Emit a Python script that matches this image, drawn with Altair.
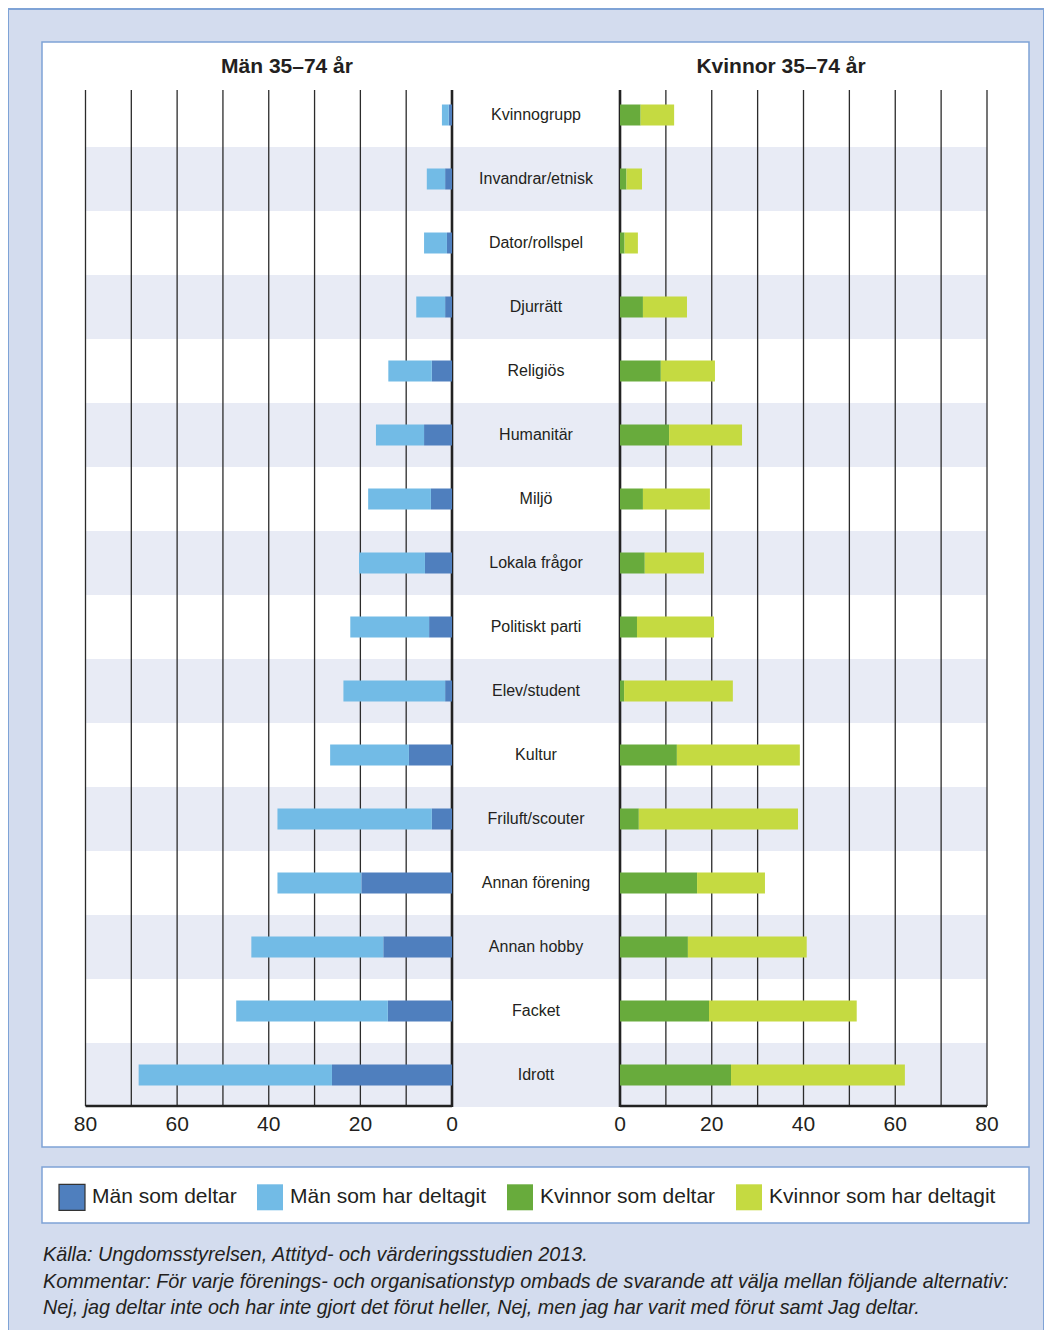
import altair as alt
import pandas as pd

# ---------------- data ----------------
categories = [
    "Kvinnogrupp", "Invandrar/etnisk", "Dator/rollspel", "Djurrätt",
    "Religiös", "Humanitär", "Miljö", "Lokala frågor", "Politiskt parti",
    "Elev/student", "Kultur", "Friluft/scouter", "Annan förening",
    "Annan hobby", "Facket", "Idrott",
]
men_deltar = [0.7, 1.5, 1.1, 1.5, 4.4, 6.1, 4.6, 5.9, 5.0, 1.5, 9.4, 4.4, 19.8, 15.0, 14.0, 26.2]
men_har_deltagit = [1.5, 4.0, 5.0, 6.3, 9.5, 10.5, 13.7, 14.4, 17.2, 22.2, 17.2, 33.7, 18.3, 28.8, 33.1, 42.2]
women_deltar = [4.5, 1.4, 1.0, 5.0, 8.9, 10.7, 5.0, 5.4, 3.7, 0.9, 12.4, 4.1, 16.8, 14.8, 19.4, 24.2]
women_har_deltagit = [7.3, 3.4, 2.9, 9.6, 11.8, 15.9, 14.6, 12.9, 16.8, 23.7, 26.8, 34.7, 14.8, 25.9, 32.2, 37.9]

series = ["Män som deltar", "Män som har deltagit", "Kvinnor som deltar", "Kvinnor som har deltagit"]
series_colors = ["#4f7fbe", "#72bbe6", "#68ab3c", "#c5da41"]

grid_values = [10, 20, 30, 40, 50, 60, 70, 80]
tick_values = [0, 20, 40, 60, 80]

title_men = "Män 35–74 år"
title_women = "Kvinnor 35–74 år"
caption = ("Källa: Ungdomsstyrelsen, Attityd- och värderingsstudien 2013.\n"
           "Kommentar: För varje förenings- och organisationstyp ombads de svarande att välja mellan följande alternativ:\n"
           "Nej, jag deltar inte och har inte gjort det förut heller, Nej, men jag har varit med förut samt Jag deltar.")

# ---------------- styling ----------------
FONT = "Liberation Sans"
TEXT = "#231f20"
BORDER = "#7fa3d6"
BG = "#d3dcee"
BAND = "#e8ebf5"
W, H = 1036, 1322

men_rows, women_rows = [], []
for c, d, h in zip(categories, men_deltar, men_har_deltagit):
    men_rows.append({"cat": c, "serie": series[0], "start": 0.0, "end": d})
    men_rows.append({"cat": c, "serie": series[1], "start": d, "end": d + h})
for c, d, h in zip(categories, women_deltar, women_har_deltagit):
    women_rows.append({"cat": c, "serie": series[2], "start": 0.0, "end": d})
    women_rows.append({"cat": c, "serie": series[3], "start": d, "end": d + h})
men_df = pd.DataFrame(men_rows)
women_df = pd.DataFrame(women_rows)
cat_df = pd.DataFrame({"cat": categories})
band_df = pd.DataFrame({"cat": categories[1::2]})
grid_df = pd.DataFrame({"v": grid_values})
zero_df = pd.DataFrame({"v": [0]})
span_df = pd.DataFrame({"a": [0], "b": [80]})
tick_df = pd.DataFrame({"v": tick_values})
one = pd.DataFrame({"k": [0]})


def men_scale():
    return alt.Scale(domain=[0, 80], range=[444, 77.5], nice=False, zero=False)


def women_scale():
    return alt.Scale(domain=[0, 80], range=[612, 979], nice=False, zero=False)


def yenc():
    return alt.Y("cat:N", scale=alt.Scale(domain=categories, range=[75, 1099],
                                          paddingInner=0, paddingOuter=0),
                 axis=None)


legend = alt.Legend(orient="none", legendX=50, legendY=1175, direction="horizontal",
                    title=None, symbolType="square", symbolSize=676,
                    symbolStrokeWidth=1.2,
                    symbolStrokeColor={"expr": "datum.value === 'Män som deltar' ? '#333333' : 'transparent'"},
                    labelFontSize=21, labelFont=FONT,
                    labelColor=TEXT, labelOffset=6, columnPadding=17, labelLimit=400,
                    symbolOpacity=1)
color = alt.Color("serie:N", scale=alt.Scale(domain=series, range=series_colors), legend=legend)

layers = []

# outer border
layers.append(alt.Chart(one).mark_rect(fillOpacity=0, stroke=BORDER, strokeWidth=2).encode(
    x=alt.value(0), x2=alt.value(W), y=alt.value(1), y2=alt.value(H + 20)))
# white panel
layers.append(alt.Chart(one).mark_rect(fill="white", stroke=BORDER, strokeWidth=1.5).encode(
    x=alt.value(34), x2=alt.value(1021), y=alt.value(34), y2=alt.value(1139)))
# legend box
layers.append(alt.Chart(one).mark_rect(fill="white", stroke=BORDER, strokeWidth=1.5).encode(
    x=alt.value(34), x2=alt.value(1021), y=alt.value(1159), y2=alt.value(1215)))

# row bands
layers.append(alt.Chart(band_df).mark_rect(fill=BAND).encode(
    y=yenc(), x=alt.value(77), x2=alt.value(979)))

# gridlines
for sc in (men_scale, women_scale):
    layers.append(alt.Chart(grid_df).mark_rule(color="#2b2b2b", strokeWidth=1.3).encode(
        x=alt.X("v:Q", scale=sc(), axis=None), y=alt.value(82), y2=alt.value(1098)))
    layers.append(alt.Chart(zero_df).mark_rule(color="#222222", strokeWidth=2.6).encode(
        x=alt.X("v:Q", scale=sc(), axis=None), y=alt.value(82), y2=alt.value(1099)))
    layers.append(alt.Chart(span_df).mark_rule(color="#222222", strokeWidth=2.4).encode(
        x=alt.X("a:Q", scale=sc(), axis=None), x2="b:Q", y=alt.value(1098)))

# bars
layers.append(alt.Chart(men_df).mark_bar(height=21).encode(
    y=yenc(), x=alt.X("start:Q", scale=men_scale(), axis=None), x2="end:Q", color=color))
layers.append(alt.Chart(women_df).mark_bar(height=21).encode(
    y=yenc(), x=alt.X("start:Q", scale=women_scale(), axis=None), x2="end:Q", color=color))

# category labels
layers.append(alt.Chart(cat_df).mark_text(font=FONT, fontSize=16, color=TEXT, align="center",
                                           baseline="middle").encode(
    y=yenc(), x=alt.value(528), text="cat:N"))

# panel titles
layers.append(alt.Chart(one).mark_text(font=FONT, fontSize=21, fontWeight="bold", color=TEXT,
                                       align="center", baseline="middle", text=title_men).encode(
    x=alt.value(279), y=alt.value(59)))
layers.append(alt.Chart(one).mark_text(font=FONT, fontSize=21, fontWeight="bold", color=TEXT,
                                       align="center", baseline="middle", text=title_women).encode(
    x=alt.value(773), y=alt.value(59)))

# tick labels
for sc in (men_scale, women_scale):
    layers.append(alt.Chart(tick_df).mark_text(font=FONT, fontSize=21, color=TEXT, align="center",
                                               baseline="middle").encode(
        x=alt.X("v:Q", scale=sc(), axis=None), y=alt.value(1117), text="v:Q"))

# caption
layers.append(alt.Chart(one).mark_text(font=FONT, fontSize=19.8, fontStyle="italic", color=TEXT,
                                       align="left", baseline="middle", lineBreak="\n",
                                       lineHeight=26.5, text=caption).encode(
    x=alt.value(35), y=alt.value(1247)))

chart = alt.layer(*layers).resolve_scale(x="independent").properties(
    width=W, height=H, padding=0, background=BG,
    autosize=alt.AutoSizeParams(type="none"),
).configure_view(stroke=None)

chart.save("out.html", embed_options={"renderer": "svg", "actions": False})
